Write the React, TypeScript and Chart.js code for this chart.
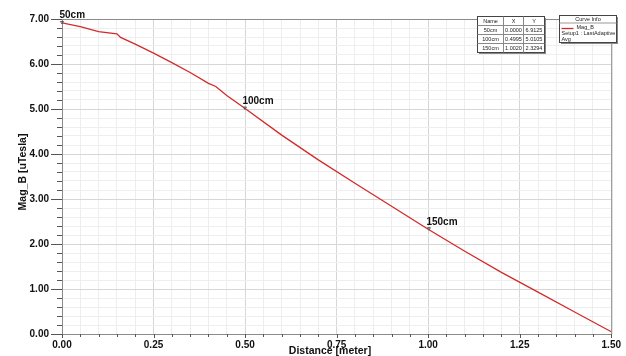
import React, { useEffect, useRef } from "react";
import { Chart, registerables } from "chart.js";

Chart.register(...registerables);

const distances = [0, 0.05, 0.1, 0.15, 0.16, 0.2, 0.25, 0.3, 0.35, 0.4, 0.42, 0.45, 0.5, 0.6, 0.7, 0.8, 0.9, 1.0, 1.1, 1.2, 1.3, 1.4, 1.5];
const magB = [6.9125, 6.83, 6.72, 6.67, 6.59, 6.44, 6.24, 6.03, 5.81, 5.57, 5.5, 5.3, 5.0105, 4.42, 3.87, 3.35, 2.84, 2.3294, 1.84, 1.37, 0.93, 0.49, 0.05];

const markerNames = ["50cm", "100cm", "150cm"];
const markerX = [0.0, 0.4995, 1.002];
const markerY = [6.9125, 5.0105, 2.3294];
const markerXText = ["0.0000", "0.4995", "1.0020"];
const markerYText = ["6.9125", "5.0105", "2.3294"];

const xTitle = "Distance [meter]";
const yTitle = "Mag_B [uTesla]";
const seriesName = "Mag_B";
const setupText = "Setup1 : LastAdaptive";
const setupText2 = "Avg";

const FONT = "'Liberation Sans', Arial, sans-serif";

function isMult(v: number, step: number) {
  const r = v / step;
  return Math.abs(r - Math.round(r)) < 1e-6;
}

const overlay = {
  id: "overlay",
  afterDraw(chart: any) {
    const ctx = chart.ctx as CanvasRenderingContext2D;
    const { left, right, top, bottom } = chart.chartArea;
    const xs = chart.scales.x;
    const ys = chart.scales.y;
    ctx.save();
    ctx.strokeStyle = "#8a8a8a";
    ctx.lineWidth = 1;
    ctx.beginPath();
    ctx.moveTo(left, top + 0.5);
    ctx.lineTo(right + 0.5, top + 0.5);
    ctx.lineTo(right + 0.5, bottom);
    ctx.stroke();
    ctx.strokeStyle = "#555";
    for (let i = 0; i <= 35; i++) {
      const v = i * 0.2;
      const py = Math.round(ys.getPixelForValue(v)) + 0.5;
      const major = isMult(v, 1);
      ctx.beginPath();
      ctx.moveTo(left - (major ? 11 : 5), py);
      ctx.lineTo(left, py);
      ctx.stroke();
    }
    for (let i = 0; i <= 30; i++) {
      const v = i * 0.05;
      const px = Math.round(xs.getPixelForValue(v)) + 0.5;
      const major = isMult(v, 0.25);
      ctx.beginPath();
      ctx.moveTo(px, bottom);
      ctx.lineTo(px, bottom + (major ? 4 : 3));
      ctx.stroke();
    }
    ctx.fillStyle = "#111";
    ctx.font = `bold 10.5px ${FONT}`;
    ctx.textAlign = "center";
    ctx.textBaseline = "middle";
    ctx.fillText(xTitle, 330, 351);
    ctx.save();
    ctx.translate(23, 172);
    ctx.rotate(-Math.PI / 2);
    ctx.fillText(yTitle, 0, 0);
    ctx.restore();
    ctx.font = `bold 10px ${FONT}`;
    ctx.textAlign = "left";
    ctx.textBaseline = "alphabetic";
    for (let i = 0; i < markerNames.length; i++) {
      const px = xs.getPixelForValue(markerX[i]);
      const py = ys.getPixelForValue(markerY[i]);
      ctx.strokeStyle = "#555";
      ctx.beginPath();
      ctx.moveTo(px - 1.5, py - 1.5);
      ctx.lineTo(px + 1.5, py - 1.5);
      ctx.lineTo(px, py + 1);
      ctx.closePath();
      ctx.stroke();
      ctx.fillStyle = "#111";
      ctx.fillText(markerNames[i], px - 2.5, py - 4.5);
    }
    const tx = 477.5, ty = 16.5;
    const colW = [26, 20, 21];
    const rowH = 9;
    const tw = colW[0] + colW[1] + colW[2];
    const th = rowH * 4;
    ctx.fillStyle = "#888";
    ctx.fillRect(tx + 1.5, ty + 1.5, tw, th);
    ctx.fillStyle = "#fff";
    ctx.fillRect(tx, ty, tw, th);
    ctx.strokeStyle = "#444";
    ctx.lineWidth = 1;
    ctx.strokeRect(tx, ty, tw, th);
    ctx.strokeStyle = "#888";
    for (let r = 1; r < 4; r++) {
      ctx.beginPath();
      ctx.moveTo(tx, ty + r * rowH);
      ctx.lineTo(tx + tw, ty + r * rowH);
      ctx.stroke();
    }
    let cx = tx;
    for (let c = 0; c < 2; c++) {
      cx += colW[c];
      ctx.beginPath();
      ctx.moveTo(cx, ty);
      ctx.lineTo(cx, ty + th);
      ctx.stroke();
    }
    ctx.fillStyle = "#222";
    ctx.font = `5.5px ${FONT}`;
    ctx.textAlign = "center";
    ctx.textBaseline = "middle";
    const rows = [["Name", "X", "Y"]];
    for (let i = 0; i < markerNames.length; i++) rows.push([markerNames[i], markerXText[i], markerYText[i]]);
    rows.forEach((row, r) => {
      let x0 = tx;
      row.forEach((t, c) => {
        ctx.fillText(t, x0 + colW[c] / 2, ty + r * rowH + rowH / 2 + 0.5);
        x0 += colW[c];
      });
    });
    const bx = 559.5, by = 15.5, bw = 57, bh = 27;
    ctx.fillStyle = "#888";
    ctx.fillRect(bx + 1.5, by + 1.5, bw, bh);
    ctx.fillStyle = "#fff";
    ctx.fillRect(bx, by, bw, bh);
    ctx.strokeStyle = "#444";
    ctx.strokeRect(bx, by, bw, bh);
    ctx.strokeStyle = "#999";
    ctx.beginPath();
    ctx.moveTo(bx, by + 7.5);
    ctx.lineTo(bx + bw, by + 7.5);
    ctx.stroke();
    ctx.fillStyle = "#222";
    ctx.textAlign = "center";
    ctx.fillText("Curve Info", bx + bw / 2, by + 4);
    ctx.strokeStyle = "#d42a2a";
    ctx.lineWidth = 1.3;
    ctx.beginPath();
    ctx.moveTo(bx + 2, by + 13);
    ctx.lineTo(bx + 14, by + 13);
    ctx.stroke();
    ctx.textAlign = "left";
    ctx.fillText(seriesName, bx + 17, by + 11.5);
    ctx.fillText(setupText, bx + 2, by + 18);
    ctx.fillText(setupText2, bx + 2, by + 24);
    ctx.restore();
  },
};

export default function App() {
  const ref = useRef<HTMLCanvasElement | null>(null);
  useEffect(() => {
    if (!ref.current) return;
    const data = distances.map((d, i) => ({ x: d, y: magB[i] }));
    const chart = new Chart(ref.current, {
      type: "line",
      data: {
        datasets: [
          {
            label: seriesName,
            data,
            borderColor: "#d42a2a",
            borderWidth: 1.3,
            pointRadius: 0,
            tension: 0,
            fill: false,
          },
        ],
      },
      options: {
        responsive: false,
        animation: false,
        layout: { padding: { top: 16, right: 14, left: 0, bottom: 0 } },
        plugins: { legend: { display: false }, tooltip: { enabled: false } },
        scales: {
          x: {
            type: "linear",
            min: 0,
            max: 1.5,
            afterFit: (s: any) => { s.height = 22; },
            ticks: {
              stepSize: 0.05,
              autoSkip: false,
              maxRotation: 0,
              padding: 5,
              color: "#111",
              font: { family: FONT, size: 10, weight: "bold" },
              callback: (v: any) => (isMult(Number(v), 0.25) ? Number(v).toFixed(2) : ""),
            },
            grid: {
              drawTicks: false,
              color: (c: any) => (isMult(c.tick.value, 0.25) ? "#d6d6d6" : "#eeeeee"),
            },
            border: { color: "#8a8a8a" },
          },
          y: {
            type: "linear",
            min: 0,
            max: 7,
            afterFit: (s: any) => { s.width = 62; },
            ticks: {
              stepSize: 0.2,
              autoSkip: false,
              padding: 13,
              color: "#111",
              font: { family: FONT, size: 10, weight: "bold" },
              callback: (v: any) => (isMult(Number(v), 1) ? Number(v).toFixed(2) : ""),
            },
            grid: {
              drawTicks: false,
              color: (c: any) => (isMult(c.tick.value, 1) ? "#d6d6d6" : "#eeeeee"),
            },
            border: { color: "#8a8a8a" },
          },
        },
      },
      plugins: [overlay],
    } as any);
    return () => chart.destroy();
  }, []);
  return (
    <div style={{ position: "fixed", left: 0, top: 0, width: 626, height: 356, background: "#fff" }}>
      <canvas ref={ref} width={626} height={356} />
    </div>
  );
}
